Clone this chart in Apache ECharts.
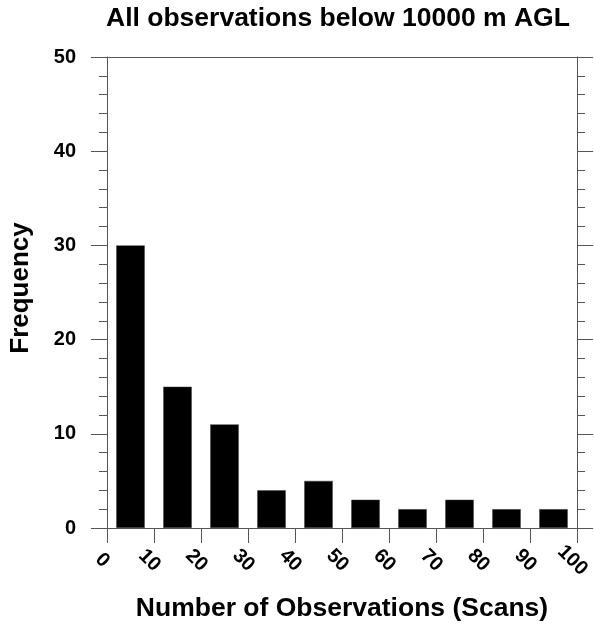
<!DOCTYPE html>
<html>
<head>
<meta charset="utf-8">
<script src="https://cdn.jsdelivr.net/npm/echarts@6/dist/echarts.min.js"></script>
<style>html,body{margin:0;padding:0;background:#fff;}#c{width:594px;height:631px;}</style>
</head>
<body>
<div id="c"></div>
<script>
const binCenters = [5, 15, 25, 35, 45, 55, 65, 75, 85, 95];
const frequencies = [30, 15, 11, 4, 5, 3, 2, 3, 2, 2];
const titleText = 'All observations below 10000 m AGL';
const xName = 'Number of Observations (Scans)';
const yName = 'Frequency';

const FONT = '"Liberation Sans", Arial, Helvetica, sans-serif';
const lineC = '#555';
const chart = echarts.init(document.getElementById('c'), null, {renderer: 'canvas'});
const yCommon = {
  type: 'value', min: 0, max: 50, interval: 10,
  axisLine: {show: true, onZero: false, lineStyle: {color: lineC, width: 1}},
  axisTick: {show: true, inside: false, length: 16, lineStyle: {color: lineC, width: 1}},
  minorTick: {show: true, splitNumber: 5, length: 8, lineStyle: {color: lineC, width: 1}},
  splitLine: {show: false}
};
chart.setOption({
  animation: false,
  backgroundColor: '#fff',
  title: {
    text: titleText, left: 106, top: 5, padding: 0,
    textStyle: {fontFamily: FONT, fontWeight: 'bold', fontSize: 26.5, color: '#000'}
  },
  grid: {left: 106, right: 17, top: 57, bottom: 103, containLabel: false},
  xAxis: [{
    type: 'value', min: 0, max: 100, interval: 10, position: 'bottom',
    name: xName, nameLocation: 'middle', nameGap: 81,
    nameTextStyle: {fontFamily: FONT, fontWeight: 'bold', fontSize: 26.5, color: '#000', verticalAlign: 'middle'},
    axisLine: {show: true, onZero: false, lineStyle: {color: lineC, width: 1}},
    axisTick: {show: true, inside: false, length: 15, lineStyle: {color: lineC, width: 1}},
    splitLine: {show: false},
    axisLabel: {
      rotate: -45, margin: 37, align: 'center', verticalAlign: 'middle',
      padding: [10.6, 13, 0, 0], hideOverlap: false,
      fontFamily: FONT, fontWeight: 'bold', fontSize: 20, color: '#000'
    }
  }, {
    type: 'value', min: 0, max: 100, interval: 10, position: 'top',
    axisLine: {show: true, onZero: false, lineStyle: {color: lineC, width: 1}},
    axisTick: {show: false}, axisLabel: {show: false}, splitLine: {show: false}
  }],
  yAxis: [Object.assign({}, yCommon, {
    position: 'left',
    name: yName, nameLocation: 'middle', nameGap: 86, nameRotate: 90,
    nameTextStyle: {fontFamily: FONT, fontWeight: 'bold', fontSize: 26, color: '#000', verticalAlign: 'middle', padding: [0, 0, 0, 9]},
    axisLabel: {margin: 31, fontFamily: FONT, fontWeight: 'bold', fontSize: 20, color: '#000'}
  }), Object.assign({}, yCommon, {
    position: 'right', axisLabel: {show: false}
  })],
  series: [{
    type: 'bar', xAxisIndex: 0, yAxisIndex: 0,
    data: binCenters.map((c, i) => [c, frequencies[i]]),
    barWidth: 28.5,
    itemStyle: {color: '#000', borderColor: '#444', borderWidth: 0.5}
  }]
});
</script>
</body>
</html>
